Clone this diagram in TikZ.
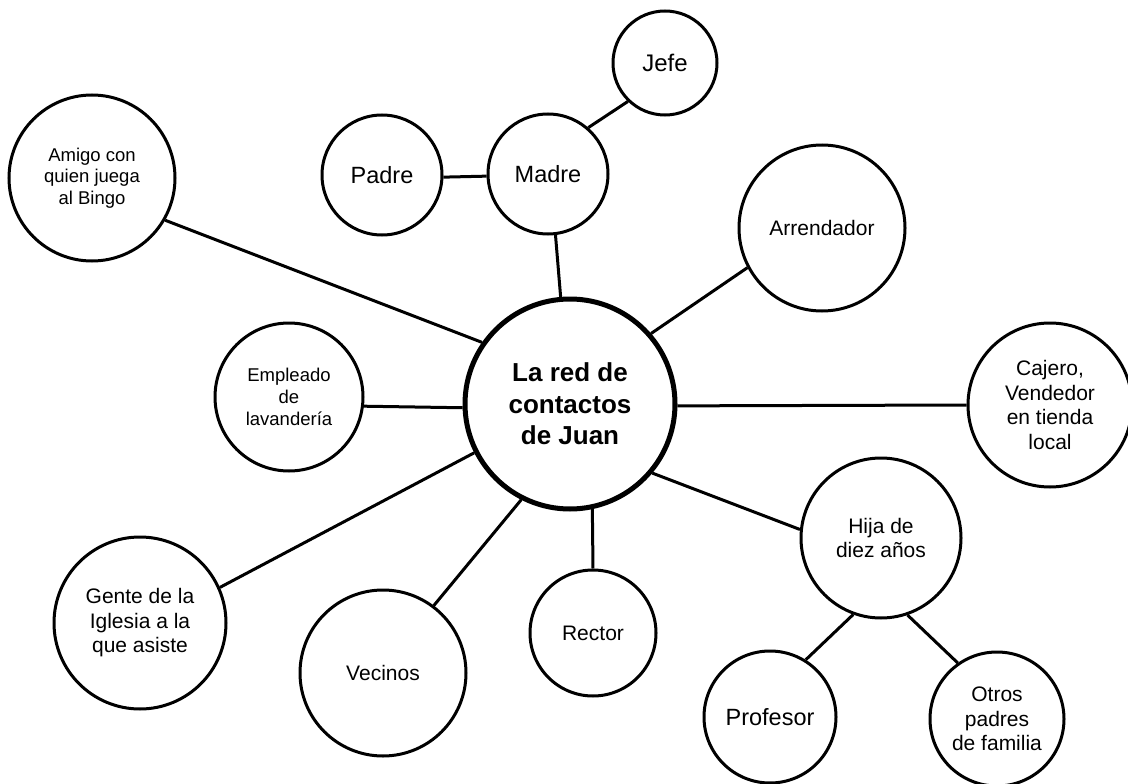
\documentclass[tikz,border=0pt]{standalone}
\usepackage{fontspec}
\setmainfont{Liberation Sans}

\begin{document}
\begin{tikzpicture}[x=1pt, y=-1pt,
    contact/.style={circle, draw, line width=3pt, inner sep=0pt, align=center,
        font=\fontsize{21}{24.5}\selectfont},
    smalltext/.style={font=\fontsize{18.5}{21.7}\selectfont},
    bigtext/.style={font=\fontsize{23.5}{27}\selectfont},
    link/.style={line width=3pt}]
    \useasboundingbox (0,0) rectangle (1128,784);
    \node[contact, line width=5pt, minimum size=210pt,
        font=\bfseries\fontsize{26}{31.7}\selectfont] (juan) at (570,404) {La red de\\contactos\\de Juan};
    \node[contact, smalltext, minimum size=166pt] (amigo) at (92,178) {Amigo con\\quien juega\\al Bingo};
    \node[contact, bigtext, minimum size=120pt] (padre) at (382,175) {Padre};
    \node[contact, bigtext, minimum size=120pt] (madre) at (548,174) {Madre};
    \node[contact, font=\fontsize{24}{28}\selectfont, minimum size=104pt] (jefe) at (665,63) {Jefe};
    \node[contact, minimum size=166pt] (arrendador) at (822,228) {Arrendador};
    \node[contact, minimum size=164pt] (cajero) at (1050,405) {Cajero,\\Vendedor\\en tienda\\local};
    \node[contact, smalltext, minimum size=148pt] (empleado) at (289,397) {Empleado\\de\\lavandería};
    \node[contact, minimum size=172pt] (gente) at (140,623) {Gente de la\\Iglesia a la\\que asiste};
    \node[contact, minimum size=166pt] (vecinos) at (383,673) {Vecinos};
    \node[contact, minimum size=126pt] (rector) at (593,633) {Rector};
    \node[contact, minimum size=160pt] (hija) at (881,538) {Hija de\\diez años};
    \node[contact, bigtext, minimum size=132pt] (profesor) at (770,717) {Profesor};
    \node[contact, minimum size=134pt] (otros) at (997,719) {Otros\\padres\\de familia};

    % connectors
    \draw[link] (amigo.-30) -- (juan.145);
    \draw[link] (madre.-83) -- (juan.95);
    \draw[link] (padre.-2) -- (madre.182);
    \draw[link] (madre.49) -- (jefe.226);
    \draw[link] (juan.41) -- (arrendador.208);
    \draw[link] (juan.-1) -- (cajero.180);
    \draw[link] (empleado.-7) -- (juan.182);
    \draw[link] (gente.24) -- (juan.207);
    \draw[link] (vecinos.53) -- (juan.243);
    \draw[link] (rector.north) -- (juan.-78);
    \draw[link] (juan.-40) -- (hija.174);
    \draw[link] (hija.-110) -- (profesor.58);
    \draw[link] (hija.-71) -- (otros.125);
\end{tikzpicture}
\end{document}
